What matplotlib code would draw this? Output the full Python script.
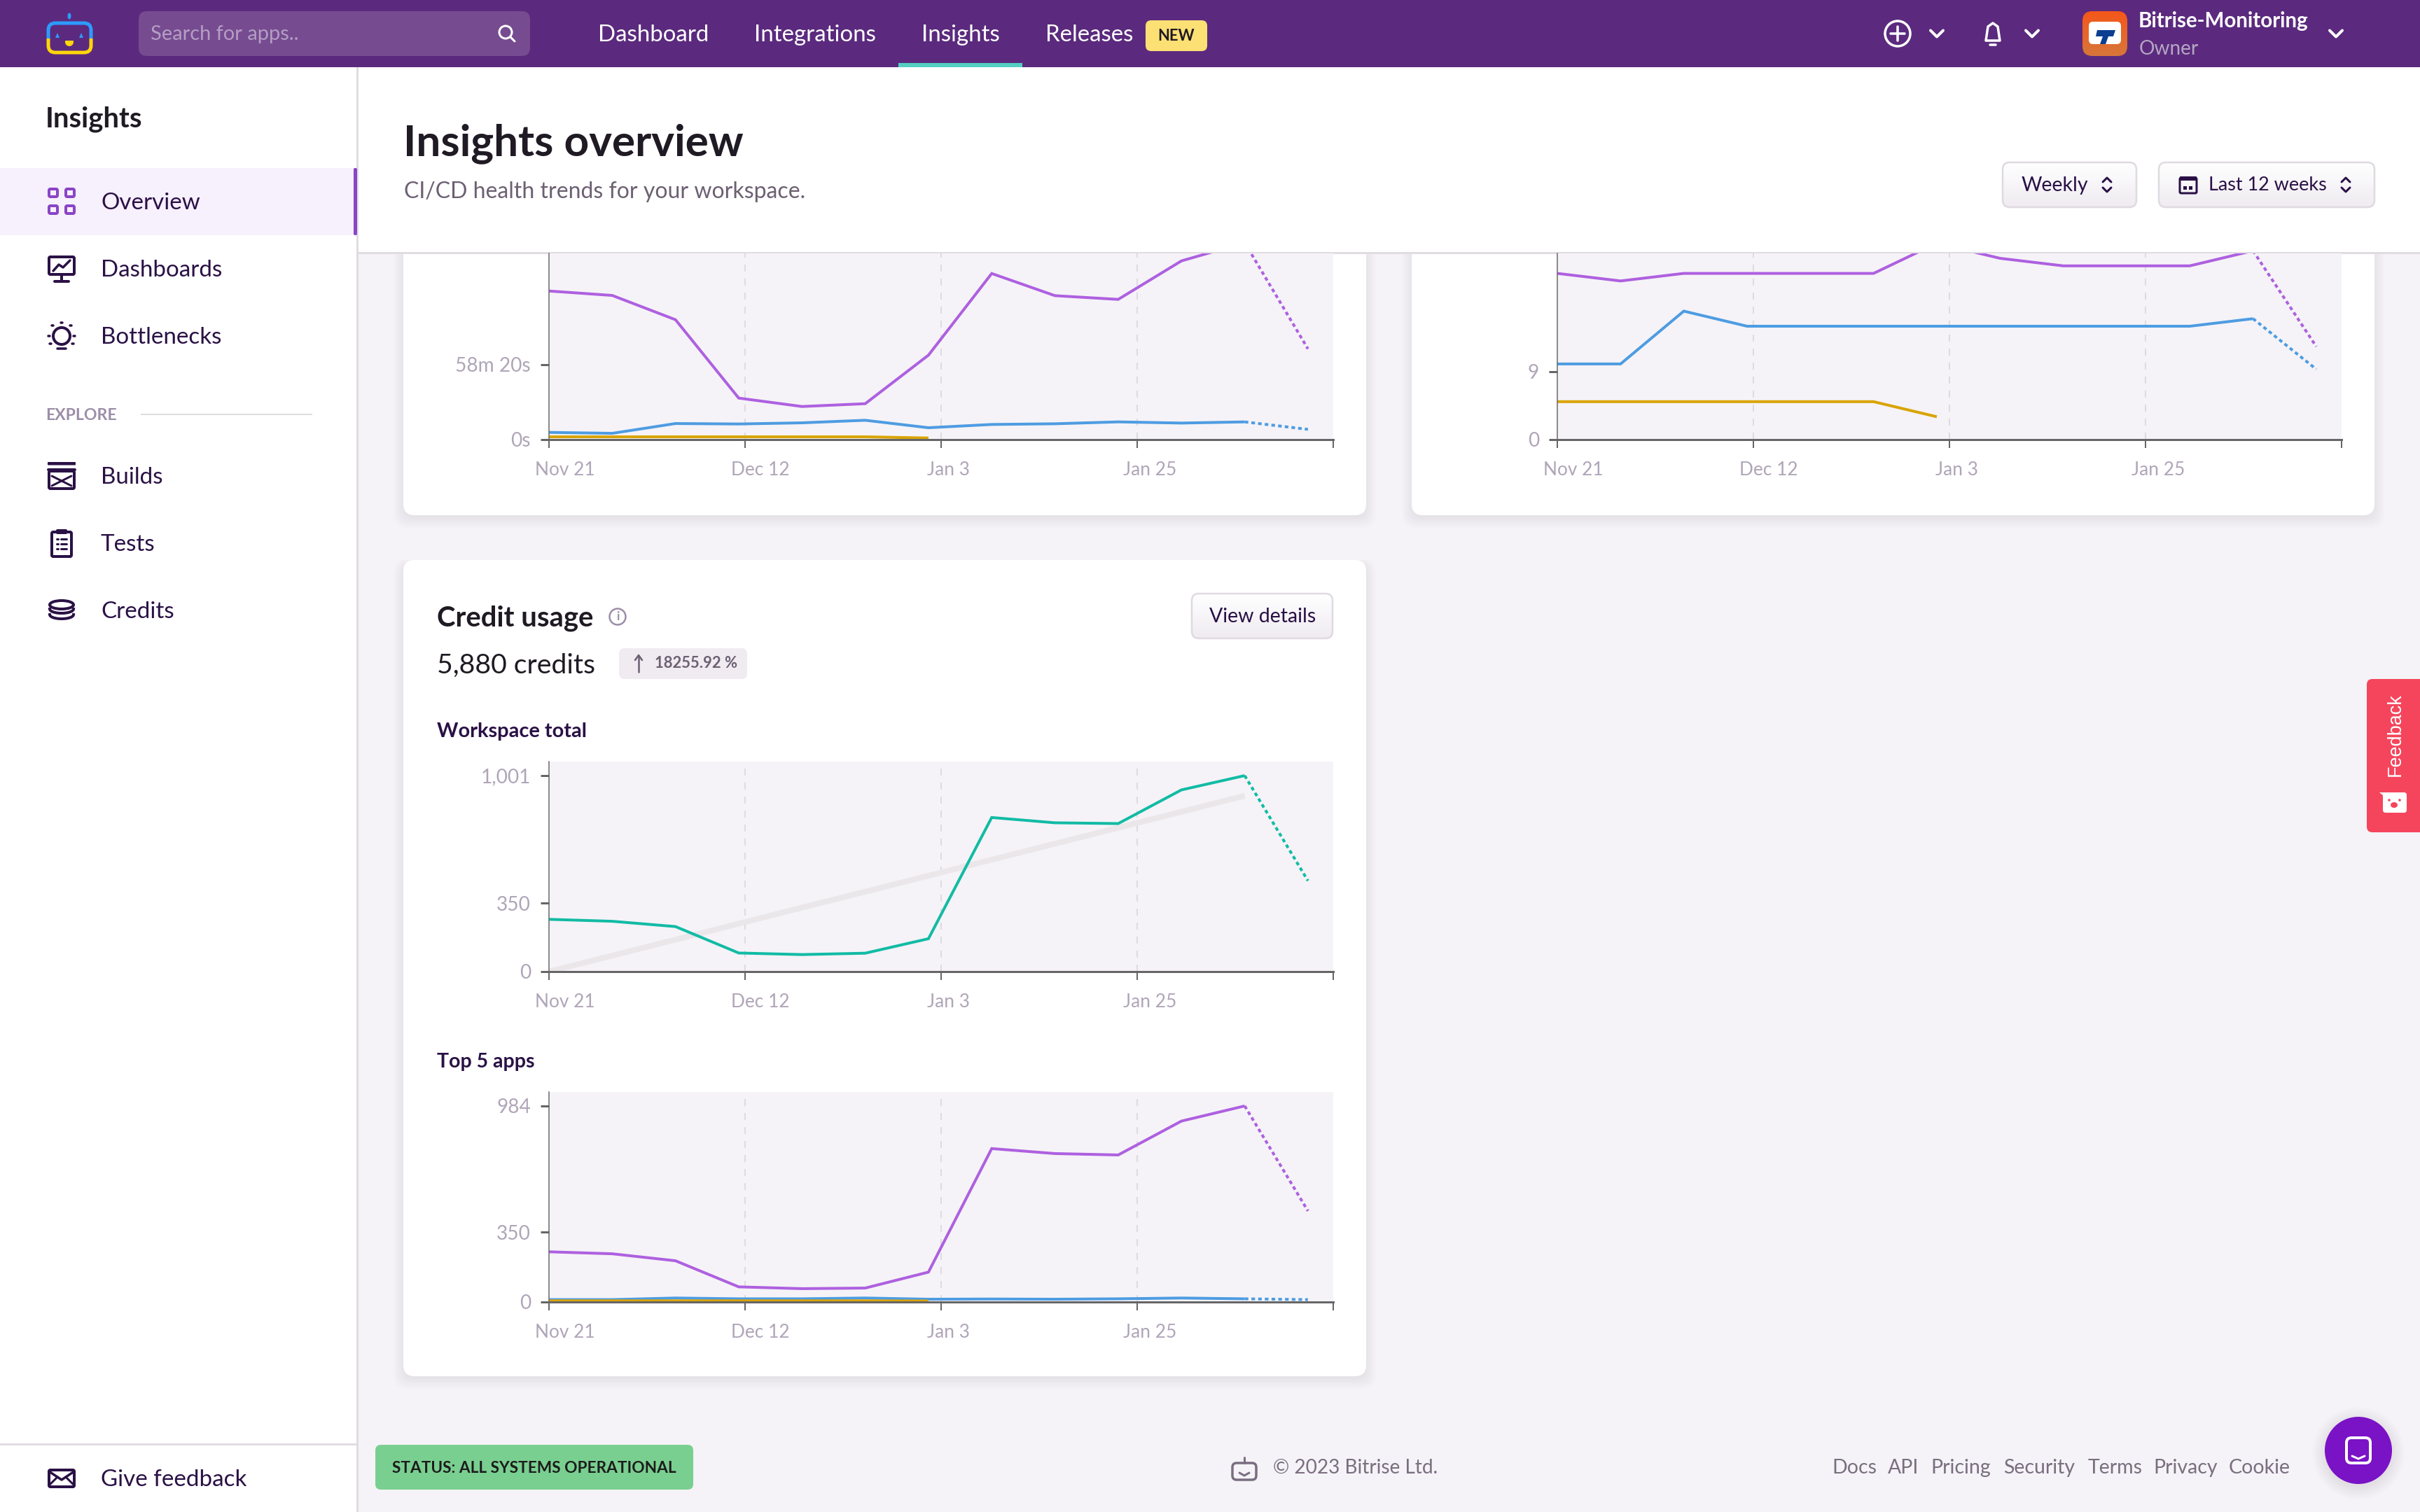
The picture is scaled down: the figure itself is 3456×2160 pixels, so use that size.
import numpy as np
import matplotlib
matplotlib.use('Agg')
import matplotlib.pyplot as plt
from matplotlib.patches import FancyBboxPatch, Rectangle, Circle, Ellipse, Polygon
from matplotlib.transforms import ScaledTranslation

W, H = 3456, 2160
DPI = 100

plt.rcParams['font.family'] = ['Lato', 'DejaVu Sans']

# chart data, one value per week
date_labels = ['Nov 21', 'Dec 12', 'Jan 3', 'Jan 25', '']

runtime_purple = [6934, 6727, 5593, 1930, 1537, 1668, 3936, 7752, 6716, 6542, 8341, 9191, 4230]
runtime_blue = [327, 283, 741, 720, 774, 894, 545, 698, 730, 818, 763, 818, 469]
runtime_yellow = [120, 120, 120, 120, 120, 120, 65]

count_purple = [22, 21, 22, 22, 22, 22, 26, 24, 23, 23, 23, 25, 12.3]
count_blue = [10, 10, 17, 15, 15, 15, 15, 15, 15, 15, 15, 16, 9.3]
count_yellow = [5, 5, 5, 5, 5, 5, 3]

credits_total = [267, 257, 230, 95, 87, 94, 168, 787, 760, 756, 928, 1001, 464]
credits_trend_x = [0, 11]
credits_trend = [0, 898]

top5_purple = [252, 242, 207, 76, 67, 70, 150, 770, 745, 738, 908, 984, 457]
top5_blue = [12, 12, 20, 16, 16, 20, 14, 15, 14, 16, 20, 16, 12]
top5_yellow = [6, 6, 6, 6, 6, 6, 5]

PURPLE = '#AE60E0'
BLUE = '#4E9CE2'
YELLOW = '#D9A404'
TEAL = '#12BBA5'
PAGE = '#F5F3F7'
INK = '#2A1145'
TICK = '#B0A5B8'
AXIS = '#666666'


def pt(px):
    return px * 72 / DPI


fig = plt.figure(figsize=(W / DPI, H / DPI), dpi=DPI, facecolor=PAGE)
ui = fig.add_axes([0, 0, 1, 1], zorder=0)
ui.set_xlim(0, W)
ui.set_ylim(H, 0)
ui.axis('off')


def rrect(x0, y0, x1, y1, r=0, fc='none', ec='none', lw=0, alpha=None, z=1):
    if r > 0:
        p = FancyBboxPatch((x0 + r, y0 + r), x1 - x0 - 2 * r, y1 - y0 - 2 * r,
                           boxstyle='round,pad=%s,rounding_size=%s' % (r, r),
                           fc=fc, ec=ec, lw=pt(lw), alpha=alpha, zorder=z)
    else:
        p = Rectangle((x0, y0), x1 - x0, y1 - y0, fc=fc, ec=ec, lw=pt(lw), alpha=alpha, zorder=z)
    ui.add_patch(p)
    return p


def line(xs, ys, color=INK, lw=4, z=5):
    ui.plot(xs, ys, color=color, lw=pt(lw), solid_capstyle='round', solid_joinstyle='round', zorder=z)


def label(x, y, s, size, color=INK, weight='normal', ha='left', **kw):
    return ui.text(x, y + 2, s, fontsize=pt(size), color=color, fontweight=weight, ha=ha, va='center', zorder=5, **kw)


def gradient(x0, y0, x1, y1, r, top, bottom, ec='none', lw=0, z=1):
    c0 = np.array(matplotlib.colors.to_rgb(top))
    c1 = np.array(matplotlib.colors.to_rgb(bottom))
    t = np.linspace(0, 1, 64)[:, None, None]
    img = c0[None, None, :] * (1 - t) + c1[None, None, :] * t
    im = ui.imshow(img, extent=(x0, x1, y1, y0), aspect='auto', zorder=z, interpolation='bilinear')
    clip = rrect(x0, y0, x1, y1, r, fc='none', ec=ec, lw=lw, z=z + 0.1)
    im.set_clip_path(clip)


def chevron(x, y, size=8, up=False, color='white', lw=4):
    d = -size if up else size
    line([x - size, x, x + size], [y - d / 2, y + d / 2, y - d / 2], color, lw)


def card(x0, y0, x1, y1):
    for i in range(8):
        rrect(x0 - i * 2, y0 - i + 6, x1 + i * 2, y1 + i * 2 + 4, 18, fc='#5B4A66', alpha=0.006, z=0.5)
    rrect(x0, y0, x1, y1, 16, fc='white', z=0.8)


def chart(x0, x1, y_top, y_zero, y_max, yticks, ylabels, series, trend=None):
    ax = fig.add_axes([x0 / W, 1 - y_zero / H, (x1 - x0) / W, (y_zero - y_top) / H], zorder=1)
    ax.set_facecolor(PAGE)
    ax.set_xlim(0, 12.4)
    ax.set_ylim(0, y_max)
    xticks = np.linspace(0, 12.4, 5)
    for xt in xticks[1:4]:
        ax.axvline(xt, color='#DEDAE1', lw=pt(2), linestyle=(0, (5, 5)), zorder=1)
    if trend is not None:
        ax.plot(trend[0], trend[1], color='#EAE6EA', lw=pt(8), solid_capstyle='butt', zorder=1.5)
    for values, color in series:
        n = min(len(values), 12)
        ax.plot(range(n), values[:n], color=color, lw=pt(4), solid_joinstyle='miter',
                solid_capstyle='butt', zorder=2)
        if len(values) == 13:
            ax.plot([11, 12], values[11:], color=color, lw=pt(4),
                    linestyle=(0, (1.3, 1.1)), zorder=2)
    ax.set_xticks(xticks)
    ax.set_xticklabels(date_labels)
    ax.set_yticks(yticks)
    ax.set_yticklabels(ylabels)
    ax.tick_params(axis='x', length=pt(12), width=pt(2), color=AXIS, pad=pt(19),
                   labelsize=pt(26.3), labelcolor=TICK)
    ax.tick_params(axis='y', length=pt(12), width=pt(3), color=AXIS, pad=pt(14),
                   labelsize=pt(28), labelcolor=TICK)
    # date labels start a little left of their tick
    shift = ScaledTranslation(-20 / DPI, 0, fig.dpi_scale_trans)
    for lab in ax.get_xticklabels():
        lab.set_ha('left')
        lab.set_transform(lab.get_transform() + shift)
    ax.spines['top'].set_visible(False)
    ax.spines['right'].set_visible(False)
    ax.spines['left'].set_color(AXIS)
    ax.spines['left'].set_linewidth(pt(1.5))
    ax.spines['bottom'].set_color(AXIS)
    ax.spines['bottom'].set_linewidth(pt(3))
    return ax


# cards
card(576, 300, 1951, 736)
card(2016, 300, 3391, 736)
card(576, 800, 1951, 1966)

# charts
chart(784, 1904, 362, 627.7, 8691, [0, 3500], ['0s', '58m 20s'],
      [(runtime_purple, PURPLE), (runtime_blue, BLUE), (runtime_yellow, YELLOW)])
chart(2224, 3344, 362, 627.7, 24.65, [0, 9], ['0', '9'],
      [(count_purple, PURPLE), (count_blue, BLUE), (count_yellow, YELLOW)])
chart(784, 1904, 1088, 1388, 1072.5, [0, 350, 1001], ['0', '350', '1,001'],
      [(credits_total, TEAL)], trend=(credits_trend_x, credits_trend))
chart(784, 1904, 1560, 1860, 1054, [0, 350, 984], ['0', '350', '984'],
      [(top5_purple, PURPLE), (top5_blue, BLUE), (top5_yellow, YELLOW)])

# white page header, scrolls over the cards
rrect(511, 96, W, 360, fc='white', z=2)
rrect(511, 360, W, 362.5, fc='#E0DCE2', z=2)
label(576, 203, 'Insights overview', 62, '#1F1A23', 'bold')
label(577, 272, 'CI/CD health trends for your workspace.', 32, '#6C6072')

gradient(2860, 232, 3051, 296, 10, '#FFFFFF', '#EFEBF1', '#DFDAE1', 2.5, z=3)
label(2887, 263, 'Weekly', 28.5)
chevron(3009, 257, 6, True, INK, 3)
chevron(3009, 271, 6, False, INK, 3)
gradient(3083, 232, 3391, 296, 10, '#FFFFFF', '#EFEBF1', '#DFDAE1', 2.5, z=3)
rrect(3113, 254, 3137, 276, 2, fc='none', ec=INK, lw=3, z=4)
rrect(3113, 252, 3137, 258, 1, fc=INK, z=4)
rrect(3118, 266, 3123, 271, fc=INK, z=4)
rrect(3126, 266, 3131, 271, fc=INK, z=4)
label(3154, 263, 'Last 12 weeks', 27)
chevron(3350, 257, 6, True, INK, 3)
chevron(3350, 271, 6, False, INK, 3)

# credit usage card text
label(624, 881, 'Credit usage', 40, '#1F1A23', 'bold')
ui.add_patch(Circle((882, 881), 11.5, fc='none', ec='#9C8DA8', lw=pt(2.5), zorder=4))
label(882, 879, 'i', 17, '#9C8DA8', 'bold', ha='center')
gradient(1702, 848, 1903, 912, 10, '#FFFFFF', '#EFEBF1', '#DFDAE1', 2.5, z=2)
label(1727, 879, 'View details', 28.5)
label(624, 949, '5,880 credits', 39.3, '#1F1A23')
rrect(884, 926, 1067, 970, 8, fc='#F0EBF1', z=2)
line([912, 912], [937, 960], '#6C6072', 2.5)
line([907, 912, 917], [943, 936, 943], '#6C6072', 2.5)
label(935, 946, '18255.92 %', 22, '#6C6072', 'bold')
label(624, 1043, 'Workspace total', 29, INK, 'bold')
label(624, 1515, 'Top 5 apps', 28.5, INK, 'bold')

# sidebar
rrect(0, 96, 509, H, fc='white', z=2)
rrect(509, 96, 511.5, H, fc='#E0DCE2', z=2)
label(65, 168, 'Insights', 40, '#1F1A23', 'bold')
rrect(0, 240, 506, 336, fc='#F7F0FD', z=2.2)
rrect(505, 240, 510, 336, 2, fc='#8A45C5', z=2.4)
nav_names = ['Overview', 'Dashboards', 'Bottlenecks', 'Builds', 'Tests', 'Credits']
nav_y = [288, 384, 480, 680, 776, 872]
for name, y in zip(nav_names, nav_y):
    label(144, y, name, 33.2, INK)
label(65, 591, 'EXPLORE', 23, '#9C8DA8', 'bold')
rrect(201, 591, 446, 593, fc='#E0DCE2', z=3)

for x, y in [(68, 268), (92, 268), (68, 292), (92, 292)]:
    rrect(x + 2, y + 2, x + 14, y + 13, 2, ec='#8A45C5', lw=4, z=3)
rrect(70, 367, 106, 392, 2, ec=INK, lw=4, z=3)
line([76, 84, 90, 100], [387, 378, 382, 372], INK, 3.5)
line([88, 88], [393, 401], INK, 4)
line([78, 98], [402, 402], INK, 4)
ui.add_patch(Circle((88, 480), 12, fc='none', ec=INK, lw=pt(4), zorder=3))
line([82, 94], [498, 498], INK, 3.5)
for dx, dy in [(0, -19), (-13, -15), (13, -15), (-18, 0), (18, 0), (-16, 11), (16, 11)]:
    line([88 + dx - 1, 88 + dx + 1], [480 + dy, 480 + dy], INK, 3.5)
rrect(70, 673, 106, 698, 2, ec=INK, lw=4, z=3)
rrect(68, 660, 108, 664.5, 1, fc=INK, z=3)
line([69, 107], [671, 671], INK, 4)
line([74, 102], [680, 694], INK, 3)
line([74, 102], [694, 680], INK, 3)
rrect(74, 760, 102, 795, 2, ec=INK, lw=4, z=3)
rrect(80, 756, 96, 763, 2, fc=INK, z=3)
for y in [770, 777, 784]:
    line([81, 83], [y, y], INK, 3)
    line([87, 95], [y, y], INK, 3)
ui.add_patch(Ellipse((88, 864), 34, 12, fc='none', ec=INK, lw=pt(4), zorder=3))
for yc in [870, 878]:
    ui.plot(88 + 17 * np.cos(np.linspace(0, np.pi, 30)), yc + 6 * np.sin(np.linspace(0, np.pi, 30)),
            color=INK, lw=pt(4), zorder=3)

rrect(0, 2062, 509, 2064.5, fc='#E0DCE2', z=3)
rrect(70, 2100, 106, 2124, 2, ec=INK, lw=4, z=3)
line([70, 88, 106], [2102, 2114, 2102], INK, 3.5)
line([70, 82], [2122, 2110], INK, 3)
line([106, 94], [2122, 2110], INK, 3)
label(144, 2112, 'Give feedback', 33.2, INK)

# top bar
rrect(0, 0, W, 96, fc='#5B2A7E', z=4)
rrect(198, 16, 757, 80, 12, fc='#764B90', z=4.1)
label(215, 47, 'Search for apps..', 29, '#B49EC4')
ui.add_patch(Circle((722, 46), 9, fc='none', ec='white', lw=pt(3), zorder=4.5))
line([729, 735], [53, 59], 'white', 3)
nav_top = [(854, 'Dashboard'), (1077, 'Integrations'), (1316, 'Insights'), (1493, 'Releases')]
for x, s in nav_top:
    label(x, 48, s, 33, 'white')
rrect(1283, 90, 1460, 96, fc='#55CFC0', z=4.5)
rrect(1636, 29, 1724, 73, 8, fc='#FDE074', z=4.5)
label(1680, 50, 'NEW', 22, '#1F1A23', 'bold', ha='center')

# bitrise logo
for color, box in [('#2D9BFF', (60, 20, 80, 35)), ('#FFD60A', (60, 55, 80, 30))]:
    p = rrect(69, 33, 130, 75, 10, ec=color, lw=5, z=4.5)
    p.set_clip_path(Rectangle((box[0], box[1]), box[2], box[3], transform=ui.transData))
ui.add_patch(Ellipse((99, 23), 5, 9, fc='#2D9BFF', zorder=4.5))
ui.add_patch(Polygon([(79, 54), (85, 54), (82, 47)], fc='#2D9BFF', zorder=4.5))
ui.add_patch(Polygon([(113, 54), (119, 54), (116, 47)], fc='#2D9BFF', zorder=4.5))
ui.add_patch(Ellipse((99, 60), 12, 12, fc='#FFD60A', zorder=4.5))
rrect(92, 50, 106, 58, fc='#5B2A7E', z=4.6)

ui.add_patch(Circle((2710, 48), 18, fc='none', ec='white', lw=pt(3.5), zorder=4.5))
line([2700, 2720], [48, 48], 'white', 3.5)
line([2710, 2710], [38, 58], 'white', 3.5)
chevron(2766, 48, 9)
ui.add_patch(Polygon([(2836, 58), (2839, 38), (2846, 33), (2853, 38), (2856, 58)],
                     fc='none', ec='white', lw=pt(3.5), joinstyle='round', zorder=4.5))
line([2842, 2850], [64, 64], 'white', 3.5)
chevron(2902, 48, 9)
gradient(2974, 16, 3038, 80, 14, '#F5571A', '#D7763A', z=4.5)
rrect(2983, 31, 3029, 63, 6, fc='white', z=4.8)
ui.add_patch(Polygon([(2995, 43), (3021, 43), (3018, 52), (3011, 52), (3007, 63), (2999, 63), (3003, 52), (2993, 52)],
                     fc='#0B3E91', zorder=4.9))
label(3054, 28, 'Bitrise-Monitoring', 29.5, 'white', 'bold')
label(3055, 68, 'Owner', 28, '#B5A6C4')
chevron(3336, 48, 9)

# feedback tab
rrect(3380, 970, 3470, 1189, 8, fc='#F5455C', z=6)
ui.text(3421, 1050, 'Feedback', fontsize=pt(27), color='white', rotation=90, ha='center', va='center',
        family=['Liberation Sans'], zorder=7)
rrect(3403, 1132, 3437, 1161, 4, fc='white', z=7)
ui.add_patch(Polygon([(3398, 1132), (3410, 1132), (3410, 1142)], fc='white', zorder=7))
ui.add_patch(Circle((3412, 1143), 1.8, fc='#F5455C', zorder=8))
ui.add_patch(Circle((3427, 1143), 1.8, fc='#F5455C', zorder=8))
ui.add_patch(Ellipse((3419, 1150), 10, 8, fc='#F5455C', zorder=8))

# footer
rrect(536, 2064, 990, 2128, 8, fc='#79CF90', z=3)
label(560, 2095, 'STATUS: ALL SYSTEMS OPERATIONAL', 22.6, '#1C1C1C', 'bold')
rrect(1760, 2090, 1794, 2114, 6, ec='#7A6E80', lw=3.5, z=3)
line([1777, 1777], [2082, 2090], '#7A6E80', 3)
line([1770, 1777, 1784], [2104, 2108, 2104], '#7A6E80', 3)
label(1818, 2095, '\u00a9 2023 Bitrise Ltd.', 28, '#7A6E80')
footer_links = [(2616, 'Docs'), (2696, 'API'), (2757, 'Pricing'), (2861, 'Security'),
                (2982, 'Terms'), (3075, 'Privacy'), (3183, 'Cookie')]
for x, s in footer_links:
    label(x, 2095, s, 28.5, '#7A6E80')

for i in range(10):
    ui.add_patch(Circle((3368, 2076), 48 + i * 2, fc='#3A2A50', alpha=0.008, zorder=6))
ui.add_patch(Circle((3368, 2072), 48, fc='#7A12C6', zorder=6.5))
rrect(3351, 2054, 3385, 2090, 7, fc='none', ec='white', lw=4, z=7)
line([3359, 3368, 3377], [2080, 2084, 2080], 'white', 3, z=7)

ui.set_xlim(0, W)
ui.set_ylim(H, 0)
fig.savefig('out.png', dpi=DPI, facecolor=PAGE)
